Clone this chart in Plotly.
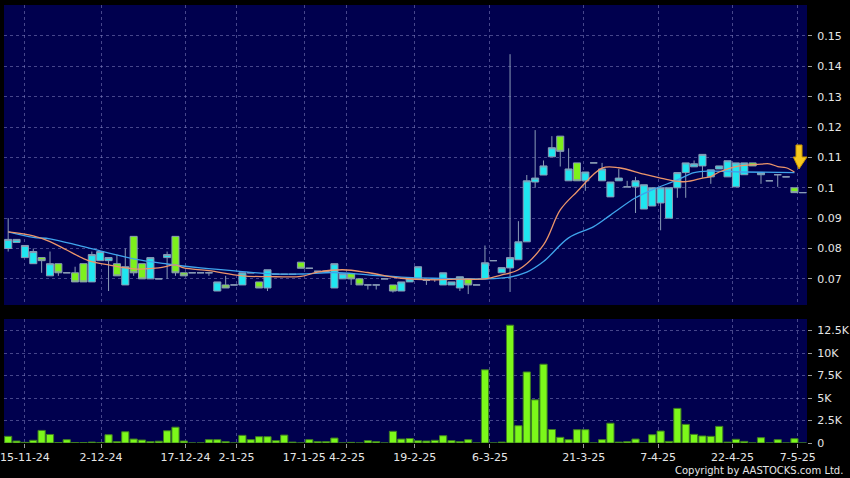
import plotly.graph_objects as go

# ---------------- data ----------------
open_ = [0.080, 0.082, 0.077, 0.075, 0.077, 0.071, 0.075, 0.072, 0.072, 0.075,
         0.069, 0.076, 0.076, 0.075, 0.068, 0.084, 0.075, 0.070, 0.070, 0.077,
         0.084, 0.072, 0.072, 0.072, 0.072, 0.066, 0.068, 0.068, 0.068, 0.072,
         0.069, 0.067, 0.0715, 0.0715, 0.0715, 0.0755, 0.0735, 0.0725, 0.0725, 0.067,
         0.070, 0.0717, 0.070, 0.068, 0.068, 0.070, 0.068, 0.066, 0.069, 0.070,
         0.0695, 0.070, 0.068, 0.068, 0.067, 0.070, 0.068, 0.070, 0.076, 0.072,
         0.0736, 0.0763, 0.0822, 0.1019, 0.1042, 0.1102, 0.117, 0.1023, 0.1082, 0.1023,
         0.1082, 0.1023, 0.097, 0.1023, 0.1003, 0.1003, 0.093, 0.094, 0.095, 0.090,
         0.100, 0.105, 0.1069, 0.1072, 0.1036, 0.1062, 0.1036, 0.1003, 0.1043, 0.1082,
         0.1043, 0.1023, 0.1043, 0.1036, 0.100, 0.0984]
high = [0.090, 0.083, 0.081, 0.080, 0.077, 0.079, 0.075, 0.072, 0.074, 0.075,
        0.079, 0.079, 0.077, 0.078, 0.080, 0.084, 0.075, 0.077, 0.070, 0.079,
        0.084, 0.072, 0.072, 0.072, 0.072, 0.069, 0.071, 0.068, 0.072, 0.072,
        0.069, 0.073, 0.0715, 0.0715, 0.0715, 0.0755, 0.0735, 0.0725, 0.0725, 0.075,
        0.0717, 0.0717, 0.070, 0.068, 0.068, 0.070, 0.068, 0.069, 0.070, 0.074,
        0.0695, 0.070, 0.072, 0.069, 0.0707, 0.070, 0.068, 0.081, 0.076, 0.0737,
        0.144, 0.089, 0.1042, 0.119, 0.109, 0.117, 0.117, 0.113, 0.1082, 0.1052,
        0.1082, 0.1082, 0.1019, 0.1062, 0.1023, 0.1036, 0.101, 0.100, 0.100, 0.100,
        0.105, 0.1082, 0.109, 0.111, 0.1059, 0.1072, 0.1089, 0.1082, 0.1082, 0.1082,
        0.105, 0.1023, 0.1043, 0.1036, 0.100, 0.0984]
low = [0.079, 0.082, 0.077, 0.075, 0.072, 0.071, 0.071, 0.072, 0.069, 0.069,
       0.069, 0.076, 0.066, 0.071, 0.068, 0.071, 0.070, 0.070, 0.070, 0.070,
       0.071, 0.071, 0.072, 0.072, 0.071, 0.066, 0.067, 0.068, 0.068, 0.072,
       0.067, 0.066, 0.0715, 0.0715, 0.0715, 0.0735, 0.0735, 0.0725, 0.0725, 0.067,
       0.070, 0.068, 0.068, 0.0665, 0.0665, 0.070, 0.0655, 0.066, 0.069, 0.070,
       0.068, 0.069, 0.068, 0.068, 0.066, 0.065, 0.068, 0.070, 0.076, 0.072,
       0.0657, 0.0763, 0.0822, 0.100, 0.1042, 0.1102, 0.107, 0.1023, 0.1023, 0.099,
       0.1082, 0.1023, 0.097, 0.1023, 0.1003, 0.0917, 0.093, 0.094, 0.086, 0.090,
       0.0967, 0.0967, 0.1069, 0.1033, 0.1013, 0.1062, 0.1036, 0.1003, 0.1043, 0.1072,
       0.1013, 0.1023, 0.1003, 0.1036, 0.0984, 0.0984]
close = [0.083, 0.083, 0.081, 0.079, 0.076, 0.075, 0.072, 0.072, 0.069, 0.069,
         0.078, 0.079, 0.077, 0.071, 0.074, 0.072, 0.070, 0.077, 0.070, 0.078,
         0.072, 0.071, 0.072, 0.072, 0.072, 0.069, 0.067, 0.068, 0.072, 0.072,
         0.067, 0.073, 0.0715, 0.0715, 0.0715, 0.0735, 0.0735, 0.0725, 0.0725, 0.075,
         0.0717, 0.070, 0.068, 0.068, 0.068, 0.070, 0.066, 0.069, 0.070, 0.074,
         0.0695, 0.070, 0.072, 0.069, 0.0707, 0.068, 0.068, 0.0753, 0.076, 0.0737,
         0.077, 0.0822, 0.1023, 0.1032, 0.1072, 0.1132, 0.112, 0.1062, 0.1023, 0.1052,
         0.1082, 0.1062, 0.1019, 0.1032, 0.1003, 0.1023, 0.101, 0.100, 0.100, 0.100,
         0.105, 0.1082, 0.1079, 0.111, 0.1059, 0.1072, 0.1089, 0.1082, 0.1082, 0.1072,
         0.105, 0.1023, 0.1043, 0.1036, 0.0984, 0.0984]
volume_k = [0.74, 0.22, 0.07, 0.30, 1.40, 0.95, 0.05, 0.37, 0.05, 0.05,
            0.10, 0.03, 0.92, 0.15, 1.25, 0.44, 0.33, 0.15, 0.20, 1.36,
            1.76, 0.22, 0.0, 0.0, 0.37, 0.37, 0.15, 0.0, 0.85, 0.37,
            0.70, 0.70, 0.26, 0.88, 0.10, 0.0, 0.37, 0.15, 0.15, 0.55,
            0.0, 0.07, 0.0, 0.26, 0.15, 0.0, 1.30, 0.44, 0.50, 0.25,
            0.22, 0.30, 0.81, 0.26, 0.15, 0.37, 0.0, 8.14, 0.0, 0.10,
            13.1, 1.92, 7.90, 4.80, 8.76, 1.50, 0.63, 0.37, 1.48, 1.48,
            0.0, 0.37, 2.20, 0.10, 0.15, 0.44, 0.0, 0.92, 1.33, 0.18,
            3.85, 2.07, 0.96, 0.78, 0.74, 1.85, 0.10, 0.41, 0.18, 0.0,
            0.59, 0.0, 0.37, 0.0, 0.48, 0.0]

# moving-average lines at selected bars
ma10_bar = [0, 3, 5, 7, 9, 10, 12, 15, 18, 20, 21, 24, 28, 32, 35, 37, 40, 43, 47, 51,
            54, 57, 59, 61, 64, 66, 68, 71, 73, 76, 78, 79, 81, 83, 84, 85, 87, 90, 91, 92, 93, 94]
ma10_val = [0.0855, 0.0842, 0.0823, 0.0795, 0.0767, 0.0757, 0.0746, 0.0733, 0.0736, 0.0746,
            0.0736, 0.0727, 0.0710, 0.0707, 0.0708, 0.0722, 0.0730, 0.0721, 0.0702, 0.0697,
            0.0699, 0.0700, 0.0713, 0.0730, 0.0812, 0.0927, 0.0987, 0.1065, 0.1066, 0.1045,
            0.1032, 0.1026, 0.1020, 0.1032, 0.1037, 0.1052, 0.1070, 0.1078, 0.1079, 0.1070,
            0.1066, 0.1052]
ma20_bar = [0, 3, 5, 9, 15, 19, 23, 28, 32, 35, 39, 43, 47, 51, 57, 60, 62, 64, 67, 70,
            72, 75, 77, 80, 82, 84, 88, 94]
ma20_val = [0.0855, 0.0837, 0.0832, 0.0806, 0.0766, 0.0749, 0.0736, 0.0724, 0.0716, 0.0716,
            0.0721, 0.0713, 0.0706, 0.0702, 0.0700, 0.0706, 0.0722, 0.0757, 0.0835, 0.0872,
            0.0910, 0.0967, 0.0993, 0.1026, 0.1050, 0.1055, 0.1052, 0.1050]

tick_labels = ["15-11-24", "2-12-24", "17-12-24", "2-1-25", "17-1-25", "4-2-25", "19-2-25",
               "6-3-25", "21-3-25", "7-4-25", "22-4-25", "7-5-25"]
tick_bar = [2.0, 11.1, 21.2, 27.3, 35.4, 40.5, 48.6, 57.6, 68.8, 77.7, 86.6, 94.4]

price_ticks = [0.07, 0.08, 0.09, 0.10, 0.11, 0.12, 0.13, 0.14, 0.15]
price_tick_text = ["0.07", "0.08", "0.09", "0.1", "0.11", "0.12", "0.13", "0.14", "0.15"]
vol_ticks = [0, 2.5, 5, 7.5, 10, 12.5]
vol_tick_text = ["0", "2.5K", "5K", "7.5K", "10K", "12.5K"]

# ---------------- figure ----------------
bars = list(range(len(close)))
FONT = "DejaVu Sans"
GRID = "rgba(140,140,200,0.5)"
TXT = "#e6e6e6"

fig = go.Figure()
fig.add_trace(go.Candlestick(
    x=bars, open=open_, high=high, low=low, close=close,
    increasing=dict(fillcolor="#1fe6f0", line=dict(color="#8a9cb6", width=1)),
    decreasing=dict(fillcolor="#7df01c", line=dict(color="#8a9cb6", width=1)),
    whiskerwidth=0, xaxis="x", yaxis="y", showlegend=False, hoverinfo="skip"))
fig.add_trace(go.Scatter(x=ma20_bar, y=ma20_val, mode="lines", xaxis="x", yaxis="y",
                         line=dict(color="#3fa4ec", width=1.3, shape="spline"),
                         showlegend=False, hoverinfo="skip"))
fig.add_trace(go.Scatter(x=ma10_bar, y=ma10_val, mode="lines", xaxis="x", yaxis="y",
                         line=dict(color="#ec956a", width=1.3, shape="spline"),
                         showlegend=False, hoverinfo="skip"))
fig.add_trace(go.Bar(x=bars, y=volume_k, xaxis="x2", yaxis="y2",
                     marker=dict(color="#7cf81a", line=dict(color="#3f7f22", width=1)),
                     showlegend=False, hoverinfo="skip"))

xcommon = dict(range=[-0.5, 95.5], tickvals=tick_bar, showgrid=True, gridcolor=GRID,
               griddash="3px,3px", gridwidth=1, zeroline=False, showline=False,
               automargin=False)
ycommon = dict(side="right", ticks="outside", ticklen=4, tickcolor="#9a9a9a",
               showgrid=True, gridcolor=GRID, griddash="3px,3px",
               zeroline=False, showline=False, ticklabelstandoff=3,
               automargin=False, ticklabeloverflow="allow",
               tickfont=dict(family=FONT, size=11, color=TXT))
fig.update_layout(
    width=850, height=478,
    margin=dict(l=4, r=43, t=5, b=35, autoexpand=False),
    paper_bgcolor="#000000", plot_bgcolor="#00004e",
    font=dict(family=FONT, size=11, color=TXT),
    boxgap=0.14, boxgroupgap=0.02, bargap=0.14,
    xaxis=dict(**xcommon, anchor="y", showticklabels=False, ticks="",
               rangeslider=dict(visible=False)),
    xaxis2=dict(**xcommon, anchor="y2", matches="x", ticktext=tick_labels,
                ticks="outside", ticklen=4, tickcolor="#9a9a9a",
                ticklabeloverflow="allow",
                tickfont=dict(family=FONT, size=11, color=TXT)),
    yaxis=dict(**ycommon, domain=[0.3151, 1.0], range=[0.0614, 0.1602],
               tickvals=price_ticks, ticktext=price_tick_text),
    yaxis2=dict(**ycommon, domain=[0.0, 0.2831], range=[0, 13.79],
                tickvals=vol_ticks, ticktext=vol_tick_text),
)

# yellow marker arrow at the end of the moving averages
fig.add_shape(type="path", xref="paper", yref="paper",
              path="M 0.9863,0.6804 L 0.9938,0.6804 L 0.9938,0.6530 L 1.0,0.6530 "
                   "L 0.9900,0.6256 L 0.9829,0.6530 L 0.9863,0.6530 Z",
              fillcolor="#f6c81e", line=dict(color="#c99400", width=1))

fig.add_annotation(text="Copyright by AASTOCKS.com Ltd.", xref="paper", yref="paper",
                   x=1.0473, y=-0.0639, xanchor="right", yanchor="middle", showarrow=False,
                   font=dict(family=FONT, size=10, color=TXT))

fig.write_html("out.html", config={"displayModeBar": False},
               post_script="document.body.style.margin='0';document.body.style.padding='0';"
                           "document.body.style.background='#000';")
